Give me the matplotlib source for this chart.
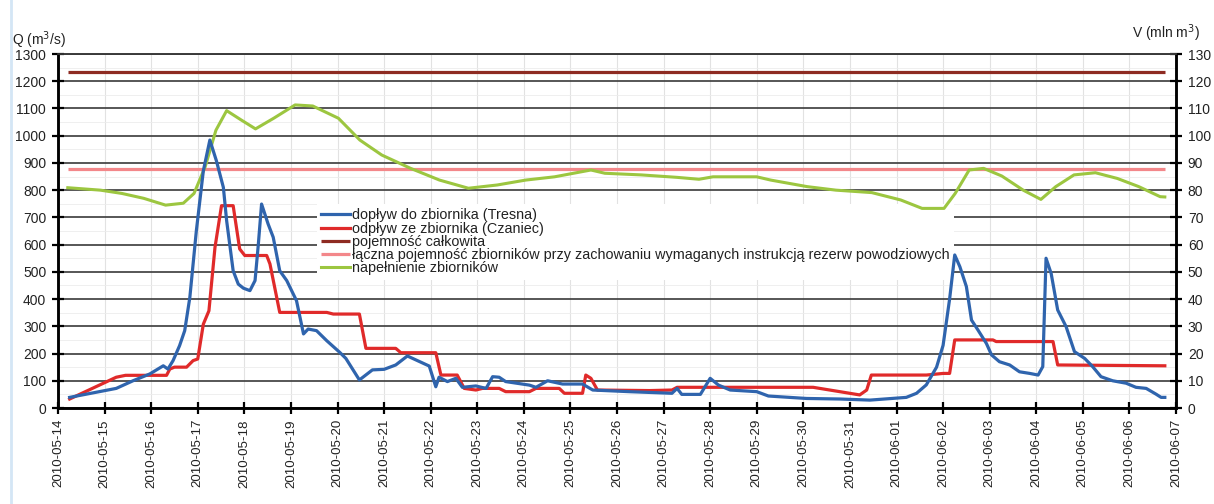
import numpy as np
import pandas as pd
import matplotlib
matplotlib.use('Agg')
import matplotlib.pyplot as plt
from matplotlib.lines import Line2D
from matplotlib.ticker import MultipleLocator

plt.rcParams['font.family'] = ['Liberation Sans', 'DejaVu Sans']

# ---------------- data ----------------
start_date = '2010-05-14'

# inflow to reservoir (Tresna), days since start / m3/s
inflow_t = [0.25, 1.25, 1.61, 1.97, 2.26, 2.36, 2.47, 2.61, 2.72, 2.83, 2.97, 3.12, 3.26,
            3.40, 3.55, 3.62, 3.76, 3.87, 3.98, 4.12, 4.23, 4.30, 4.37, 4.51, 4.62, 4.76,
            4.91, 5.12, 5.27, 5.37, 5.55, 5.77, 6.05, 6.18, 6.47, 6.75, 7.00, 7.25, 7.50,
            7.97, 8.11, 8.18, 8.36, 8.54, 8.68, 8.97, 9.19, 9.33, 9.47, 9.61, 10.12, 10.26,
            10.51, 10.83, 11.26, 11.48, 12.26, 13.18, 13.29, 13.39, 13.79, 14.00, 14.18,
            14.43, 15.00, 15.25, 16.07, 16.79, 17.43, 18.21, 18.43, 18.64, 18.86, 19.00,
            19.14, 19.25, 19.36, 19.50, 19.61, 19.75, 19.93, 20.04, 20.21, 20.43, 20.64,
            20.86, 21.04, 21.14, 21.21, 21.32, 21.46, 21.64, 21.82, 22.04, 22.21, 22.39,
            22.64, 22.93, 23.14, 23.36, 23.57, 23.68, 23.76]
inflow_q = [39, 72, 100, 125, 155, 143, 174, 229, 284, 406, 651, 871, 984,
            908, 810, 688, 504, 455, 440, 431, 468, 600, 749, 676, 627, 504,
            468, 394, 272, 290, 284, 247, 204, 182, 103, 140, 142, 158, 191,
            154, 78, 113, 97, 109, 76, 81, 72, 115, 113, 97, 84, 76,
            100, 88, 88, 66, 60, 54, 72, 50, 50, 109, 84,
            66, 60, 44, 35, 33, 29, 39, 54, 85, 150, 230,
            400, 562, 519, 446, 323, 286, 237, 195, 170, 158, 133,
            127, 121, 152, 550, 494, 360, 299, 207, 182, 152, 115,
            100, 91, 76, 72, 51, 39, 39]

# outflow from reservoir (Czaniec)
outflow_t = [0.25, 1.25, 1.45, 2.33, 2.40, 2.50, 2.76, 2.90, 3.00, 3.12, 3.24, 3.37, 3.51,
             3.76, 3.90, 4.01, 4.48, 4.55, 4.76, 5.77, 5.91, 6.47, 6.61, 7.25, 7.36, 8.11,
             8.22, 8.57, 8.72, 8.97, 9.11, 9.47, 9.61, 10.12, 10.26, 10.76, 10.87, 11.26,
             11.33, 11.44, 11.58, 12.70, 13.18, 13.29, 16.21, 17.21, 17.36, 17.46, 18.64,
             19.00, 19.14, 19.25, 20.07, 20.14, 21.36, 21.46, 23.76]
outflow_q = [33, 113, 120, 120, 143, 150, 150, 174, 180, 308, 357, 590, 743,
             743, 584, 560, 560, 529, 351, 351, 345, 345, 219, 219, 203, 203,
             121, 121, 72, 66, 72, 72, 60, 60, 72, 72, 54, 54,
             121, 109, 66, 64, 66, 76, 76, 48, 66, 121, 121,
             127, 127, 250, 250, 244, 244, 158, 155]

# reservoir filling, mln m3
storage_t = [0.21, 0.91, 1.37, 1.84, 2.31, 2.69, 2.92, 3.16, 3.39, 3.62, 3.93, 4.24, 4.63,
             5.09, 5.47, 6.02, 6.48, 6.95, 7.57, 8.19, 8.81, 9.43, 10.04, 10.66, 11.44,
             11.74, 12.52, 13.29, 13.76, 14.06, 15.00, 15.30, 16.08, 16.70, 17.47, 18.09,
             18.55, 19.02, 19.26, 19.56, 19.87, 20.26, 20.72, 21.10, 21.42, 21.81, 22.27,
             22.74, 23.20, 23.66, 23.76]
storage_v = [80.9, 80.0, 78.8, 77.0, 74.5, 75.2, 78.8, 88.6, 102.0, 109.2, 105.8, 102.5, 106.4,
             111.3, 110.9, 106.4, 98.4, 92.9, 88.0, 83.7, 80.7, 81.9, 83.7, 84.9, 87.4,
             86.2, 85.6, 84.7, 84.0, 84.9, 84.9, 83.7, 81.3, 80.0, 79.1, 76.4,
             73.3, 73.3, 78.8, 87.4, 88.0, 85.2, 80.0, 76.6, 81.3, 85.6, 86.4,
             84.3, 81.3, 77.6, 77.5]

capacity_t = [0.21, 23.76]
total_capacity = [123.3, 123.3]
flood_reserve_capacity = [87.8, 87.8]

date_labels = ['2010-05-14', '2010-05-15', '2010-05-16', '2010-05-17', '2010-05-18',
               '2010-05-19', '2010-05-20', '2010-05-21', '2010-05-22', '2010-05-23',
               '2010-05-24', '2010-05-25', '2010-05-26', '2010-05-27', '2010-05-28',
               '2010-05-29', '2010-05-30', '2010-05-31', '2010-06-01', '2010-06-02',
               '2010-06-03', '2010-06-04', '2010-06-05', '2010-06-06', '2010-06-07']

labels = ['dopływ do zbiornika (Tresna)',
          'odpływ ze zbiornika (Czaniec)',
          'pojemność całkowita',
          'łączna pojemność zbiorników przy zachowaniu wymaganych instrukcją rezerw powodziowych',
          'napełnienie zbiorników']

# ---------------- helpers ----------------
base = pd.Timestamp(start_date)
def to_dt(days):
    return base + pd.to_timedelta(np.asarray(days, dtype=float), unit='D')

# ---------------- figure ----------------
W, H = 1214, 504
fig = plt.figure(figsize=(W / 100, H / 100), dpi=100)
fig.patch.set_facecolor('white')
L, R, B, T = 58, 1176, 408, 54
ax_v = fig.add_axes([L / W, (H - B) / H, (R - L) / W, (B - T) / H])
ax_q = ax_v.twinx()

# volume axis (right) is the base layer holding the grid
ax_v.yaxis.tick_right()
ax_v.yaxis.set_label_position('right')
ax_q.yaxis.tick_left()
ax_q.yaxis.set_label_position('left')
ax_q.set_zorder(ax_v.get_zorder() + 1)
ax_q.patch.set_visible(False)

ticks_dt = pd.to_datetime(date_labels)
ax_v.set_xlim(ticks_dt[0], ticks_dt[-1])
ax_v.set_xticks(ticks_dt)
ax_v.set_xticklabels(date_labels, rotation=90, fontsize=9.6, color='#222222')

ax_v.set_ylim(0, 130)
ax_v.yaxis.set_major_locator(MultipleLocator(10))
ax_v.yaxis.set_minor_locator(MultipleLocator(5))
ax_q.set_ylim(0, 1300)
ax_q.yaxis.set_major_locator(MultipleLocator(100))

ax_v.grid(axis='y', which='major', color='#3a3a3a', lw=1.2, zorder=0)
ax_v.grid(axis='y', which='minor', color='#ececec', lw=0.6, zorder=0)
ax_v.grid(axis='x', which='major', color='#e2e2e2', lw=0.8, zorder=0)
ax_v.set_axisbelow(True)

for a in (ax_v, ax_q):
    a.spines['top'].set_color('#3a3a3a')
    a.spines['top'].set_linewidth(1.2)
    for s in ('left', 'right', 'bottom'):
        a.spines[s].set_color('black')
        a.spines[s].set_linewidth(1.8)

ax_v.tick_params(axis='y', which='major', direction='inout', length=9, width=1.6,
                 labelsize=10, pad=4, colors='black', labelcolor='#222222')
ax_v.tick_params(axis='y', which='minor', length=0)
ax_q.tick_params(axis='y', direction='inout', length=9, width=1.6,
                 labelsize=10, pad=4, colors='black', labelcolor='#222222')
ax_v.tick_params(axis='x', direction='inout', length=8, width=1.6, pad=4)

# V-axis series
l_tot, = ax_v.plot(to_dt(capacity_t), total_capacity, color='#8e2b22', lw=2.3,
                   solid_capstyle='butt', zorder=3)
l_res, = ax_v.plot(to_dt(capacity_t), flood_reserve_capacity, color='#f3878a', lw=2.3,
                   solid_capstyle='butt', zorder=3)
l_fill, = ax_v.plot(to_dt(storage_t), storage_v, color='#9cc640', lw=2.2, zorder=4)

# Q-axis series
l_out, = ax_q.plot(to_dt(outflow_t), outflow_q, color='#e02a2a', lw=2.3, zorder=3)
l_in, = ax_q.plot(to_dt(inflow_t), inflow_q, color='#2f64ad', lw=2.3, zorder=4)

# legend sits above the grid but below the data lines
leg = ax_v.legend([l_in, l_out, l_tot, l_res, l_fill], labels,
                  loc='upper left', bbox_to_anchor=((317 - L) / (R - L), (B - 204) / (B - T)),
                  fontsize=10.4, frameon=True, framealpha=1, facecolor='white',
                  edgecolor='none', fancybox=False, borderpad=0.3,
                  labelspacing=-0.05, handlelength=2.0, handletextpad=0.15,
                  borderaxespad=0)
leg.set_zorder(2)
for t in leg.get_texts():
    t.set_color('#222222')

# axis titles
fig.text(12 / W, 1 - 40 / H, 'Q (m$^3$/s)', fontsize=10, color='#222222', va='center', ha='left')
fig.text(1200 / W, 1 - 33 / H, 'V (mln m$^3$)', fontsize=10, color='#222222', va='center', ha='right')

# thin light-blue border at the left of the image
fig.add_artist(Line2D([11 / W, 11 / W], [0, 1], transform=fig.transFigure,
                      color='#d4e6f5', lw=2))

fig.savefig('out.png', dpi=100, facecolor='white')
